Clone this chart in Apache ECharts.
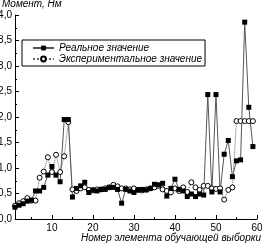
<!DOCTYPE html>
<html>
<head>
<meta charset="utf-8">
<script src="https://cdn.jsdelivr.net/npm/echarts@6/dist/echarts.min.js"></script>
<style>
html,body{margin:0;padding:0;background:#fff;}
#main{width:262px;height:245px;}
</style>
</head>
<body>
<div id="main"></div>
<script>
// данные: номер элемента выборки 1..59
var realVals=[0.23,0.27,0.30,0.35,0.37,0.55,0.55,0.62,0.86,1.03,
	0.86,0.73,1.95,1.95,0.43,0.60,0.65,0.72,0.52,0.57,
	0.55,0.58,0.58,0.62,0.62,0.58,0.31,0.58,0.55,0.52,
	0.57,0.58,0.57,0.60,0.68,0.67,0.70,0.45,0.60,0.78,
	0.58,0.55,0.44,0.49,0.44,0.49,0.47,2.44,0.53,2.44,
	0.53,1.27,1.54,0.83,1.14,1.16,3.86,2.19,1.42];
var expVals=[0.26,0.31,0.35,0.41,0.36,0.36,0.81,0.93,1.21,0.92,
	1.26,0.92,1.23,1.90,0.58,0.55,0.60,0.62,0.57,0.56,
	0.58,0.58,0.60,0.62,0.67,0.64,0.60,0.60,0.58,0.60,
	0.57,0.56,0.58,0.60,0.62,0.65,0.58,0.55,0.52,0.60,
	0.55,0.62,0.53,0.72,0.62,0.57,0.65,0.65,0.60,0.59,
	0.60,0.38,0.57,0.62,1.92,1.92,1.92,1.92,1.92];
var xTicks=[10,20,30,40,50,60];
var xMinorTicks=[5,15,25,35,45,55];
var seriesNames=['Реальное значение','Экспериментальное значение'];

window.onload=function(){
	var myChart=echarts.init(document.getElementById('main'));
	var font='Liberation Sans';
	function toPairs(arr){
		return arr.map(function(v,i){return [i+1,v];});
	}
	var option={
		animation:false,
		textStyle:{fontFamily:font},
		title:[{
				text:'Момент, Нм',
				left:2,top:-1,padding:0,
				textStyle:{fontSize:10,fontStyle:'italic',fontWeight:'normal',color:'#000',fontFamily:font}
			},{
				text:'Номер элемента обучающей выборки',
				right:1,bottom:2,padding:0,
				textStyle:{fontSize:10,fontStyle:'italic',fontWeight:'normal',color:'#000',fontFamily:font}
			}],
		legend:{
				data:seriesNames,
				orient:'vertical',
				left:22,top:40,
				padding:[3,3,2,10],
				itemGap:1,
				itemWidth:21,itemHeight:6,
				borderColor:'#000',borderWidth:1,
				textStyle:{fontSize:10,fontStyle:'italic',color:'#000',lineHeight:10,fontFamily:font}
			},
		grid:{left:15,right:5,top:15,bottom:26,outerBoundsMode:'none'},
		xAxis:[{
				type:'value',min:1,max:60,
				axisLine:{lineStyle:{color:'#000',width:1}},
				axisTick:{inside:true,length:4,customValues:xTicks,lineStyle:{color:'#000'}},
				axisLabel:{customValues:xTicks,fontSize:10,color:'#000',margin:4},
				splitLine:{show:false}
			},{
				type:'value',min:1,max:60,position:'bottom',
				axisLine:{show:false},
				axisTick:{inside:true,length:2,customValues:xMinorTicks,lineStyle:{color:'#000'}},
				axisLabel:{show:false},
				splitLine:{show:false}
			}],
		yAxis:{
				type:'value',min:0,max:4,interval:0.5,
				axisLine:{show:true,lineStyle:{color:'#000',width:1}},
				axisTick:{show:true,inside:true,length:4,lineStyle:{color:'#000'}},
				minorTick:{show:true,splitNumber:2,length:2,lineStyle:{color:'#000'}},
				axisLabel:{
						fontSize:10,color:'#000',margin:3,
						formatter:function(v){return v.toFixed(1).replace('.',',');}
					},
				splitLine:{show:false}
			},
		series:[{
				name:seriesNames[1],
				type:'line',
				data:toPairs(expVals),
				symbol:'circle',symbolSize:5,
				lineStyle:{color:'#666',width:1,type:'dotted'},
				itemStyle:{color:'#fff',borderColor:'#000',borderWidth:1}
			},{
				name:seriesNames[0],
				type:'line',
				data:toPairs(realVals),
				symbol:'rect',symbolSize:5,
				lineStyle:{color:'#555',width:1},
				itemStyle:{color:'#000',borderColor:'#000',borderWidth:0}
			}]
	};
	myChart.setOption(option);
};
</script>
</body>
</html>
